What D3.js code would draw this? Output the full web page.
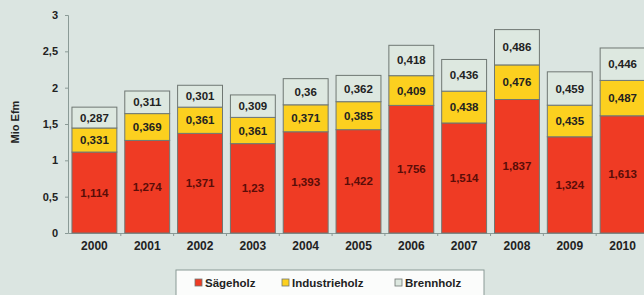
<!DOCTYPE html>
<html>
<head>
<meta charset="utf-8">
<script src="https://cdn.jsdelivr.net/npm/d3@7"></script>
<style>
body { margin: 0; background: #dbe5e1; }
svg { display: block; font-family: "Liberation Sans", Arial, sans-serif; }
</style>
</head>
<body>
<svg></svg>
<script>
let years = ['2000','2001','2002','2003','2004','2005','2006','2007','2008','2009','2010']
let saegeholz = [1.114, 1.274, 1.371, 1.23, 1.393, 1.422, 1.756, 1.514, 1.837, 1.324, 1.613]
let industrieholz = [0.331, 0.369, 0.361, 0.361, 0.371, 0.385, 0.409, 0.438, 0.476, 0.435, 0.487]
let brennholz = [0.287, 0.311, 0.301, 0.309, 0.36, 0.362, 0.418, 0.436, 0.486, 0.459, 0.446]
let seriesNames = ['Sägeholz', 'Industrieholz', 'Brennholz']
let yTicks = [0, 0.5, 1, 1.5, 2, 2.5, 3]

let width = 644
let height = 295
let colors = ['#ef3b24', '#fcd01f', '#dde8e0']

let svg = d3.select('svg').attr('width', width).attr('height', height)

let rows = years.map((y, i) => ({
    year: y,
    'Sägeholz': saegeholz[i],
    'Industrieholz': industrieholz[i],
    'Brennholz': brennholz[i]
}))

let stack = d3.stack().keys(seriesNames)(rows)

let xScale = d3.scaleBand()
    .domain(years)
    .range([68, 649])
    .paddingInner(0.15)
    .paddingOuter(0.075)

let yScale = d3.scaleLinear()
    .domain([0, 3])
    .range([233, 15])

let fmt = (v) => String(v).replace('.', ',')

// y axis
let yAxis = d3.axisLeft(yScale)
    .tickValues(yTicks)
    .tickSize(3)
    .tickFormat(fmt)

let gy = svg.append('g')
    .attr('transform', 'translate(68,0)')
    .call(yAxis)
gy.select('.domain').attr('stroke', '#8a9a96')
gy.selectAll('.tick line').attr('stroke', '#8a9a96')
gy.selectAll('.tick text')
    .attr('font-size', 11)
    .attr('font-weight', 'bold')
    .attr('fill', '#222')
    .attr('dx', -4)

// x axis
let gx = svg.append('g')
    .attr('transform', 'translate(0,233)')
    .call(d3.axisBottom(xScale).tickSize(0))
gx.select('.domain').attr('stroke', '#8a9a96')
gx.selectAll('.tick text')
    .attr('font-size', 12)
    .attr('font-weight', 'bold')
    .attr('fill', '#222')
    .attr('dy', 14)

// small ticks between the categories
svg.append('g')
    .selectAll('line')
    .data(years.slice(1))
    .enter()
    .append('line')
    .attr('x1', (d) => xScale(d) - xScale.step() * xScale.paddingInner() / 2)
    .attr('x2', (d) => xScale(d) - xScale.step() * xScale.paddingInner() / 2)
    .attr('y1', 233).attr('y2', 236)
    .attr('stroke', '#8a9a96')

svg.append('text')
    .attr('transform', 'translate(19,122) rotate(-90)')
    .attr('text-anchor', 'middle')
    .attr('font-size', 11)
    .attr('font-weight', 'bold')
    .attr('fill', '#222')
    .text('Mio Efm')

// bars
stack.forEach((layer, k) => {
    let g = svg.append('g')
    g.selectAll('rect')
        .data(layer)
        .enter()
        .append('rect')
        .attr('x', (d) => xScale(d.data.year))
        .attr('width', xScale.bandwidth())
        .attr('y', (d) => yScale(d[1]))
        .attr('height', (d) => yScale(d[0]) - yScale(d[1]))
        .attr('fill', colors[k])
        .attr('stroke', '#6f7773')
        .attr('stroke-width', 1)

    g.selectAll('text')
        .data(layer)
        .enter()
        .append('text')
        .attr('x', (d) => xScale(d.data.year) + xScale.bandwidth() / 2)
        .attr('y', (d) => (yScale(d[0]) + yScale(d[1])) / 2 + 4)
        .attr('text-anchor', 'middle')
        .attr('font-size', 11.5)
        .attr('font-weight', 'bold')
        .attr('fill', k == 0 ? '#5a0d08' : '#222')
        .text((d) => fmt(d.data[seriesNames[k]]))
})

// legend
let legend = svg.append('g')
legend.append('rect')
    .attr('x', 176).attr('y', 270)
    .attr('width', 308).attr('height', 26)
    .attr('fill', '#fbfcfb')
    .attr('stroke', '#8a9a96')

let legX = [195, 282, 395]
seriesNames.forEach((name, k) => {
    legend.append('rect')
        .attr('x', legX[k]).attr('y', 279)
        .attr('width', 7).attr('height', 7)
        .attr('fill', colors[k])
        .attr('stroke', '#6f7773')
        .attr('stroke-width', 0.8)
    legend.append('text')
        .attr('x', legX[k] + 10).attr('y', 287)
        .attr('font-size', 11.5)
        .attr('font-weight', 'bold')
        .attr('fill', '#222')
        .text(name)
})
</script>
</body>
</html>
